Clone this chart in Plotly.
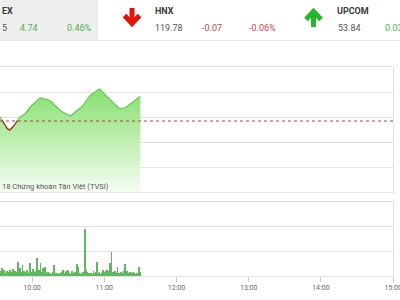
import plotly.graph_objects as go
import datetime as _dt

W, H = 400, 300
DAY = "2018-08-20 "

# ---------------- data ----------------
price_times = ["09:33", "09:35", "09:37", "09:39", "09:41", "09:42", "09:44", "09:46", "09:48",
               "09:50", "09:52", "09:54", "09:56", "09:58", "10:00", "10:02", "10:04", "10:06",
               "10:08", "10:10", "10:12", "10:14", "10:16", "10:18", "10:20", "10:22", "10:24",
               "10:26", "10:28", "10:30", "10:32", "10:34", "10:36", "10:38", "10:40", "10:42",
               "10:44", "10:46", "10:48", "10:50", "10:52", "10:54", "10:56", "10:58", "11:00",
               "11:02", "11:04", "11:06", "11:08", "11:10", "11:12", "11:14", "11:16", "11:18",
               "11:20", "11:22", "11:24", "11:26", "11:28", "11:30"]
price_values = [1030.1, 1029.4, 1028.6, 1027.8, 1027.4, 1027.5, 1028.0, 1028.6, 1029.3,
                1030.0, 1030.3, 1030.6, 1031.2, 1031.9, 1032.4, 1032.8, 1033.3, 1033.7,
                1033.8, 1033.6, 1033.6, 1033.4, 1033.1, 1032.5, 1032.0, 1031.6, 1031.2,
                1030.9, 1030.6, 1030.4, 1030.2, 1030.6, 1031.0, 1031.4, 1031.8, 1032.2,
                1032.9, 1033.6, 1034.2, 1034.6, 1034.9, 1035.2, 1035.6, 1035.1, 1034.6,
                1034.1, 1033.6, 1033.1, 1032.6, 1032.1, 1031.8, 1031.7, 1031.8, 1031.9,
                1032.3, 1032.7, 1033.1, 1033.5, 1033.8, 1034.1]
reference_value = 1029.2

volume_start = "09:34"  # one bar per minute from here
volume_values = [100, 160, 80, 120, 60, 100, 80, 60, 120, 80, 140, 60, 100, 80, 280, 60,
                 160, 80, 220, 100, 60, 80, 120, 60, 260, 80, 60, 140, 80, 100, 360, 80,
                 120, 260, 80, 160, 60, 180, 60, 80, 40, 60, 40, 80, 220, 60, 40, 60,
                 40, 60, 40, 80, 120, 60, 100, 40, 120, 60, 40, 100, 60, 40, 80, 240,
                 180, 40, 60, 40, 80, 60, 960, 120, 80, 60, 40, 60, 40, 100, 60, 80,
                 280, 60, 80, 40, 60, 120, 80, 100, 120, 80, 100, 260, 480, 80, 60, 100,
                 60, 180, 60, 40, 80, 60, 100, 240, 60, 100, 60, 80, 40, 60, 80, 60,
                 40, 60, 40, 180, 80]

x_ticks = ["10:00", "11:00", "12:00", "13:00", "14:00", "15:00"]
x_range = ["09:33:20", "15:00:20"]
y_price_range = [1015, 1040]
y_price_dtick = 5
y_vol_range = [0, 1500]
y_vol_dtick = 500

header_labels = [("EX", 0), ("HNX", 153), ("UPCOM", 335)]
header_values = [  # text, x, color
    ("5", 0, "#555555"), ("4.74", 18, "#4fb14a"), ("0.46%", 65, "#4fb14a"),
    ("119.78", 153, "#555555"), ("-0.07", 200, "#d9413e"), ("-0.06%", 247, "#d9413e"),
    ("53.84", 336, "#555555"), ("0.03", 383, "#4fb14a"),
]
credit_text = "18 Chứng khoán Tân Việt (TVSI)"

# ---------------- helpers ----------------
def px(x):
    return x / W

def py(y):
    return 1 - y / H

def t(s):
    return DAY + s

vstart = _dt.datetime.strptime(DAY + volume_start, "%Y-%m-%d %H:%M")
volume_times = [(vstart + _dt.timedelta(minutes=i)).strftime("%Y-%m-%d %H:%M")
                for i in range(len(volume_values))]

ptimes = [t(s) for s in price_times]

# segment below reference (with its neighbours) drawn red
below = [i for i, v in enumerate(price_values) if v < reference_value]
lo, hi = max(below[0] - 1, 0), min(below[-1] + 1, len(price_values) - 1)

fig = go.Figure()

fig.add_trace(go.Scatter(
    x=ptimes, y=price_values, mode="lines", xaxis="x", yaxis="y",
    line=dict(color="#62c850", width=1.2),
    fill="tozeroy",
    fillgradient=dict(type="vertical",
                      colorscale=[[0, "rgba(247,253,245,1)"], [1, "rgba(136,224,112,1)"]],
                      start=y_price_range[0], stop=max(price_values)),
    hoverinfo="skip", showlegend=False))
fig.add_trace(go.Scatter(
    x=ptimes[lo:hi + 1], y=price_values[lo:hi + 1], mode="lines", xaxis="x", yaxis="y",
    line=dict(color="#b0281e", width=1.2), hoverinfo="skip", showlegend=False))
fig.add_trace(go.Scatter(
    x=[t(x_range[0]), t(x_range[1])], y=[reference_value, reference_value], mode="lines",
    xaxis="x", yaxis="y", line=dict(color="#c43a32", width=1, dash="dot"),
    hoverinfo="skip", showlegend=False))

fig.add_trace(go.Bar(
    x=volume_times, y=volume_values, xaxis="x2", yaxis="y2",
    marker=dict(color="#5fb85c", line=dict(width=0)), width=45000,
    hoverinfo="skip", showlegend=False))

dom_x = [0, px(393.5)]
grid = "#e3e3e3"
fig.update_layout(
    width=W, height=H, autosize=False,
    margin=dict(l=0, r=0, t=0, b=0),
    paper_bgcolor="white", plot_bgcolor="white",
    font=dict(family="Roboto", color="#555555"),
    bargap=0,
    xaxis=dict(domain=dom_x, anchor="y", type="date", range=[t(x_range[0]), t(x_range[1])],
               showgrid=False, showticklabels=False, ticks="", zeroline=False,
               showline=True, mirror=True, linecolor=grid, linewidth=1),
    yaxis=dict(domain=[py(192), py(67)], anchor="x", range=y_price_range, dtick=y_price_dtick,
               showgrid=True, gridcolor=grid, gridwidth=1, showticklabels=False,
               zeroline=False, ticks=""),
    xaxis2=dict(domain=dom_x, anchor="y2", type="date", range=[t(x_range[0]), t(x_range[1])],
                tickmode="array", tickvals=[t(s) for s in x_ticks], ticktext=x_ticks,
                showgrid=False, ticks="outside", ticklen=5, tickcolor="#cccccc",
                tickfont=dict(size=7, color="#666666", family="Roboto"),
                ticklabeloverflow="allow",
                showline=True, mirror=True, linecolor=grid, linewidth=1, zeroline=False,
                automargin=False),
    yaxis2=dict(domain=[py(276), py(202)], anchor="x2", range=y_vol_range, dtick=y_vol_dtick,
                showgrid=True, gridcolor=grid, gridwidth=1, showticklabels=False,
                zeroline=False, ticks=""),
)

shapes = [
    dict(type="rect", xref="paper", yref="paper", x0=px(-5), x1=px(98), y0=py(40), y1=py(-5),
         fillcolor="#eeeeee", line=dict(width=0), layer="below"),
    dict(type="line", xref="paper", yref="paper", x0=0, x1=1, y0=py(40.5), y1=py(40.5),
         line=dict(color="#e6e6e6", width=1)),
    dict(type="line", xref="paper", yref="paper", x0=px(393.5), x1=px(393.5), y0=py(192), y1=py(67),
         line=dict(color=grid, width=1)),
    dict(type="line", xref="paper", yref="paper", x0=px(393.5), x1=px(393.5), y0=py(276), y1=py(202),
         line=dict(color=grid, width=1)),
    # red down arrow
    dict(type="line", xref="paper", yref="paper", x0=px(132), x1=px(132), y0=py(8), y1=py(23),
         line=dict(color="#e3120b", width=5)),
    dict(type="path", xref="paper", yref="paper",
         path=f"M {px(124.5)} {py(15.5)} L {px(132)} {py(23.5)} L {px(139.5)} {py(15.5)}",
         line=dict(color="#e3120b", width=5)),
    # green up arrow
    dict(type="line", xref="paper", yref="paper", x0=px(313.5), x1=px(313.5), y0=py(27), y1=py(12),
         line=dict(color="#22b82a", width=5)),
    dict(type="path", xref="paper", yref="paper",
         path=f"M {px(306)} {py(19.5)} L {px(313.5)} {py(11.5)} L {px(321)} {py(19.5)}",
         line=dict(color="#22b82a", width=5)),
]
fig.update_layout(shapes=shapes)

ann = []
for txt, x in header_labels:
    ann.append(dict(text=f"<b>{txt}</b>", x=px(x), y=py(11), xref="paper", yref="paper",
                    xanchor="left", yanchor="middle", showarrow=False,
                    font=dict(size=9, color="#3a3a3a", family="Roboto")))
for txt, x, c in header_values:
    ann.append(dict(text=txt, x=px(x), y=py(28.5), xref="paper", yref="paper",
                    xanchor="left", yanchor="middle", showarrow=False,
                    font=dict(size=9, color=c, family="Roboto")))
ann.append(dict(text=credit_text, x=px(0), y=py(186), xref="paper", yref="paper",
                xanchor="left", yanchor="middle", showarrow=False,
                font=dict(size=7.5, color="#555555", family="Roboto")))
fig.update_layout(annotations=ann)

fig.write_html("out.html")
